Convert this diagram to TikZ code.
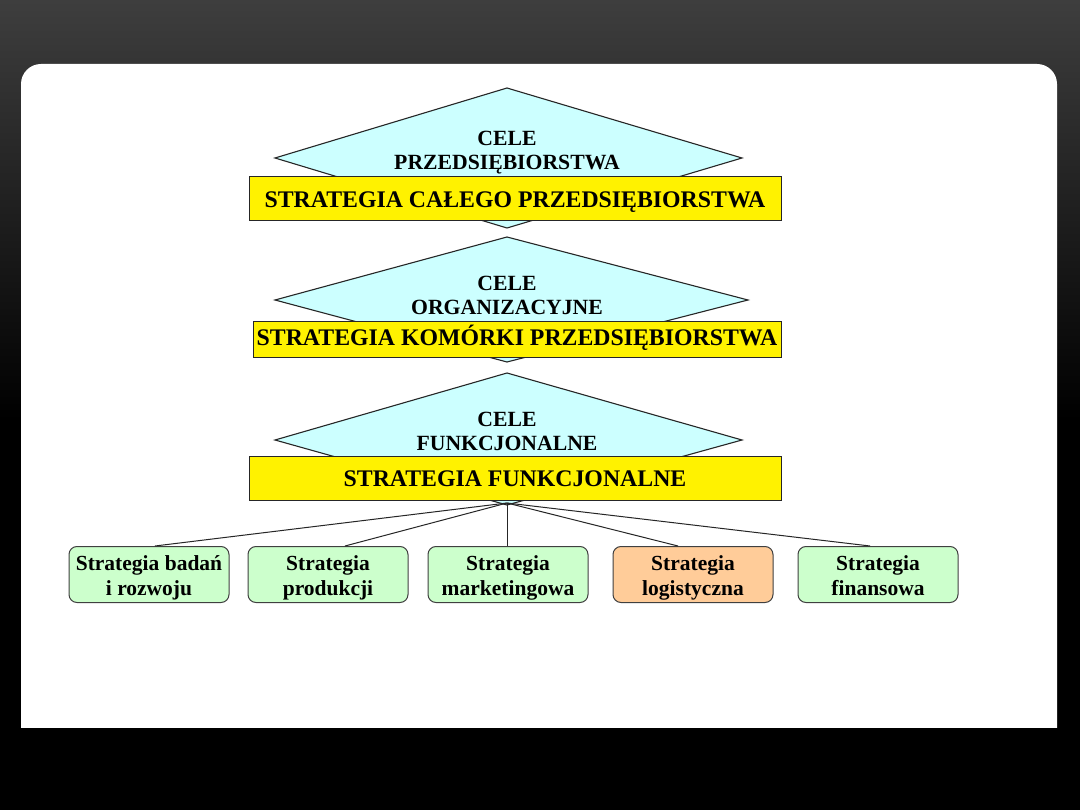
\documentclass[tikz,border=0pt]{standalone}
\usepackage{fontspec}
\setmainfont{Liberation Serif}
\definecolor{cyanl}{RGB}{204,255,255}
\definecolor{leafgreen}{RGB}{204,255,204}
\definecolor{leaforange}{RGB}{255,204,153}
\definecolor{bgtop}{RGB}{62,62,62}
\newcommand{\leaftop}{\rule{0pt}{23.5pt}}
\begin{document}
\begin{tikzpicture}[x=1pt,y=-1pt,
  goal/.style={draw=black!85, line width=1.1pt, fill=cyanl, line join=miter},
  bar/.style={draw=black!85, line width=1pt, fill=yellow, minimum width=532pt, minimum height=44pt, inner sep=0pt, text height=16.5pt, text depth=0pt, font=\fontsize{23.8}{26}\selectfont\bfseries},
  gtext/.style={align=center, font=\fontsize{21.7}{24}\selectfont\bfseries, inner sep=0pt},
  leaf/.style={draw=black!75, line width=1pt, rounded corners=8pt, minimum width=160pt, minimum height=55pt, align=center, inner sep=0pt, font=\fontsize{21.5}{25}\selectfont\bfseries, fill=leafgreen},
  link/.style={draw=black!85, line width=1pt}
]
\path[use as bounding box] (0,0) rectangle (1080,810);
% background
\fill[black] (0,0) rectangle (1080,810);
\shade[top color=bgtop, bottom color=black] (0,0) rectangle (1080,420);
\fill[white, rounded corners=20pt] (21,64) rectangle (1057,760);
\fill[black] (0,728) rectangle (1080,810);

% level 1
\path[goal] (507,88) coordinate (d1t) -- (742,158) coordinate (d1r) -- (507,228) coordinate (d1b) -- (275,158) coordinate (d1l) -- cycle;
\node[gtext] (g1) at (507,153) {\strut CELE\\\strut PRZEDSIĘBIORSTWA};
\node[bar] (s1) at (515,199) {STRATEGIA CAŁEGO PRZEDSIĘBIORSTWA};

% level 2
\path[goal] (507,237) coordinate (d2t) -- (748,300) coordinate (d2r) -- (507,362) coordinate (d2b) -- (275,300) coordinate (d2l) -- cycle;
\node[gtext] (g2) at (507,297.5) {\strut CELE\\\strut ORGANIZACYJNE};
\node[bar, minimum width=528pt, minimum height=36pt, text height=11pt] (s2) at (517,340) {STRATEGIA KOMÓRKI PRZEDSIĘBIORSTWA};

% level 3
\path[goal] (507,373) coordinate (d3t) -- (742,440) coordinate (d3r) -- (507,505) coordinate (d3b) -- (275,440) coordinate (d3l) -- cycle;
\node[gtext] (g3) at (507,434) {\strut CELE\\\strut FUNKCJONALNE};
\node[bar, minimum height=43pt] (s3) at (515,478.5) {STRATEGIA FUNKCJONALNE};

% leaves
\node[leaf] (b1) at (149,574.5) {\leaftop Strategia badań\\\strut i rozwoju};
\node[leaf] (b2) at (328,574.5) {\leaftop Strategia\\\strut produkcji};
\node[leaf] (b3) at (508,574.5) {\leaftop Strategia\\\strut marketingowa};
\node[leaf, fill=leaforange] (b4) at (693,574.5) {\leaftop Strategia\\\strut logistyczna};
\node[leaf] (b5) at (878,574.5) {\leaftop Strategia\\\strut finansowa};

% connectors
\coordinate (src) at (507,503);
\draw[link] (src) -- ([xshift=6pt]b1.north);
\draw[link] (src) -- ([xshift=17pt]b2.north);
\draw[link] (src) -- ([xshift=-1pt]b3.north);
\draw[link] (src) -- ([xshift=-15pt]b4.north);
\draw[link] (src) -- ([xshift=-8pt]b5.north);
\end{tikzpicture}
\end{document}
